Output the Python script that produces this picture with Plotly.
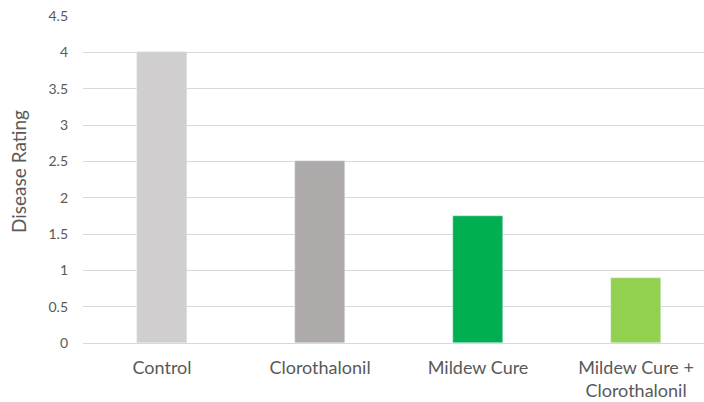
import plotly.graph_objects as go

categories = ["Control", "Clorothalonil", "Mildew Cure", "Mildew Cure +<br>Clorothalonil"]
values = [4.0, 2.5, 1.75, 0.9]
colors = ["#D0CECE", "#AEAAAA", "#00B050", "#92D050"]
y_ticks = [0, 0.5, 1, 1.5, 2, 2.5, 3, 3.5, 4, 4.5]

fig = go.Figure(go.Bar(x=list(range(len(categories))), y=values, marker_color=colors, width=0.317))

fig.update_layout(
    width=704, height=402,
    margin=dict(l=83, r=0, t=16, b=59, autoexpand=False),
    plot_bgcolor="white", paper_bgcolor="white",
    font=dict(family="Lato, sans-serif", color="#595959"),
    showlegend=False,
    bargap=0,
)
fig.update_xaxes(
    tickmode="array", tickvals=list(range(len(categories))), ticktext=categories,
    range=[-0.5, 3.43], showgrid=False, showline=False, zeroline=False,
    tickfont=dict(size=18, color="#595959"), ticks="", ticklen=0,
    ticklabelstandoff=12, automargin=False,
)
fig.update_yaxes(
    range=[0, 4.5], tickvals=y_ticks, ticktext=[f"{v:g}" for v in y_ticks],
    showgrid=True, gridcolor="#D9D9D9", gridwidth=1,
    zeroline=True, zerolinecolor="#D9D9D9", zerolinewidth=1,
    tickfont=dict(size=14, color="#595959"), ticks="", ticklabelstandoff=14,
    automargin=False,
)
fig.add_annotation(
    text="Disease Rating", textangle=-90, showarrow=False,
    xref="paper", yref="paper", x=(18 - 83) / 621, y=(343 - 172) / 327,
    xanchor="center", yanchor="middle",
    font=dict(size=19, color="#595959"),
)
fig.write_html(
    "out.html",
    config={"displayModeBar": False},
    post_script="document.body.style.margin='0';document.body.style.overflow='hidden';",
)
